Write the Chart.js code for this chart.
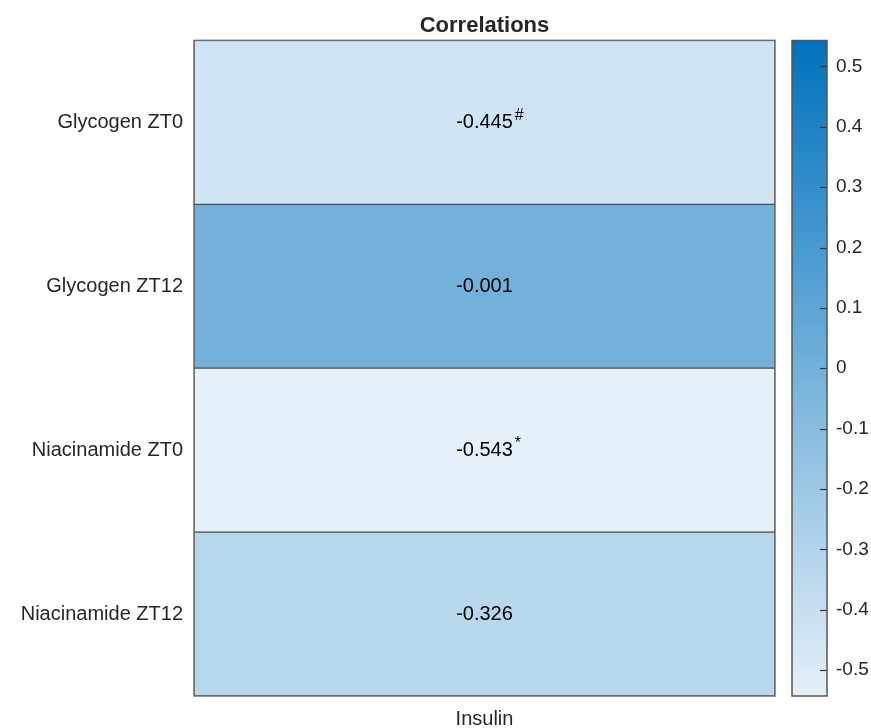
<!DOCTYPE html>
<html>
<head>
<meta charset="utf-8">
<script src="https://cdn.jsdelivr.net/npm/chart.js@4.4.1/dist/chart.umd.min.js"></script>
<style>
  body { margin: 0; background: #fff; }
  #wrap { position: relative; width: 871px; height: 728px; }
  #heat { position: absolute; left: 0; top: 0; }
  #cbar { position: absolute; left: 780px; top: 0; }
</style>
</head>
<body>
<div id="wrap">
  <canvas id="heat" width="871" height="728"></canvas>
  <canvas id="cbar" width="91" height="728"></canvas>
</div>
<script>
// data
const rowLabels = ['Glycogen ZT0', 'Glycogen ZT12', 'Niacinamide ZT0', 'Niacinamide ZT12'];
const colLabels = ['Insulin'];
const corrValues = [-0.445, -0.001, -0.543, -0.326];
const sigMarks = ['#', '', '*', ''];
const colorbarTicks = [-0.5, -0.4, -0.3, -0.2, -0.1, 0, 0.1, 0.2, 0.3, 0.4, 0.5];
const climMin = -0.543;
const climMax = 0.543;

const FONT = "'Liberation Sans', Arial, Helvetica, sans-serif";
const TXT = '#262626';
const lowColor = [229, 240, 248];
const highColor = [0, 114, 189];

function cmap(v) {
  let t = (v - climMin) / (climMax - climMin);
  t = Math.max(0, Math.min(1, t));
  const c = lowColor.map((lo, i) => Math.round(lo + (highColor[i] - lo) * t));
  return 'rgb(' + c.join(',') + ')';
}

Chart.defaults.font.family = FONT;
Chart.defaults.color = TXT;

// numbers inside the cells (with superscript significance marks)
const cellText = {
  id: 'cellText',
  afterDatasetsDraw(chart) {
    const ctx = chart.ctx;
    const meta = chart.getDatasetMeta(0);
    ctx.save();
    meta.data.forEach((bar, i) => {
      const cx = (bar.x + bar.base) / 2;
      const cy = bar.y;
      const txt = corrValues[i].toFixed(3);
      ctx.fillStyle = '#000';
      ctx.font = '20px ' + FONT;
      ctx.textAlign = 'center';
      ctx.textBaseline = 'middle';
      ctx.fillText(txt, cx, cy);
      if (sigMarks[i]) {
        const w = ctx.measureText(txt).width;
        ctx.font = '16px ' + FONT;
        ctx.textAlign = 'left';
        ctx.fillText(sigMarks[i], cx + w / 2 + 2, cy - 7);
      }
    });
    // outer frame
    const a = chart.chartArea;
    ctx.strokeStyle = '#6e6e6e';
    ctx.lineWidth = 1.5;
    ctx.strokeRect(a.left, a.top, a.right - a.left, a.bottom - a.top);
    ctx.restore();
  }
};

new Chart(document.getElementById('heat'), {
  type: 'bar',
  data: {
    labels: rowLabels,
    datasets: [{
      data: corrValues.map(() => [0, 1]),
      backgroundColor: corrValues.map(cmap),
      borderColor: '#4d4d4d',
      borderWidth: 1,
      borderSkipped: false,
      barPercentage: 1,
      categoryPercentage: 1
    }]
  },
  options: {
    indexAxis: 'y',
    responsive: false,
    animation: false,
    layout: { padding: { left: 0, right: 96, top: 0, bottom: 0 } },
    plugins: {
      legend: { display: false },
      tooltip: { enabled: false },
      title: {
        display: true,
        text: 'Correlations',
        fullSize: false,
        color: TXT,
        font: { size: 22, weight: 'bold' },
        padding: { top: 13, bottom: 1 }
      }
    },
    scales: {
      y: {
        grid: { display: false, drawTicks: false },
        border: { display: false },
        ticks: { font: { size: 20 }, color: TXT, padding: 11 },
        afterFit(scale) { scale.width = 194; }
      },
      x: {
        type: 'linear',
        min: 0,
        max: 1,
        grid: { display: false, drawTicks: false },
        border: { display: false },
        afterBuildTicks(scale) { scale.ticks = [{ value: 0.5 }]; },
        ticks: {
          font: { size: 20 },
          color: TXT,
          padding: 11,
          maxRotation: 0,
          callback: () => colLabels[0]
        },
        afterFit(scale) { scale.height = 32; }
      }
    }
  },
  plugins: [cellText]
});

// colorbar
const inwardTicks = {
  id: 'inwardTicks',
  afterDatasetsDraw(chart) {
    const ctx = chart.ctx;
    const a = chart.chartArea;
    const ys = chart.scales.y;
    ctx.save();
    ctx.strokeStyle = '#333';
    ctx.lineWidth = 1.2;
    colorbarTicks.forEach(v => {
      const y = Math.round(ys.getPixelForValue(v)) + 0.5;
      ctx.beginPath();
      ctx.moveTo(a.right, y);
      ctx.lineTo(a.right - 7, y);
      ctx.stroke();
    });
    ctx.strokeStyle = '#555';
    ctx.lineWidth = 1.5;
    ctx.strokeRect(a.left, a.top, a.right - a.left, a.bottom - a.top);
    ctx.restore();
  }
};

new Chart(document.getElementById('cbar'), {
  type: 'bar',
  data: {
    labels: [''],
    datasets: [{
      data: [[climMin, climMax]],
      backgroundColor(c) {
        const a = c.chart.chartArea;
        if (!a) return cmap(0);
        const g = c.chart.ctx.createLinearGradient(0, a.bottom, 0, a.top);
        g.addColorStop(0, cmap(climMin));
        g.addColorStop(1, cmap(climMax));
        return g;
      },
      borderWidth: 0,
      barPercentage: 1,
      categoryPercentage: 1
    }]
  },
  options: {
    responsive: false,
    animation: false,
    layout: { padding: { left: 12, right: 0, top: 40.5, bottom: 32 } },
    plugins: { legend: { display: false }, tooltip: { enabled: false } },
    scales: {
      x: { display: false },
      y: {
        position: 'right',
        min: climMin,
        max: climMax,
        grid: { display: false, drawTicks: false },
        border: { display: false },
        afterBuildTicks(scale) { scale.ticks = colorbarTicks.map(v => ({ value: v })); },
        ticks: {
          font: { size: 19 },
          color: TXT,
          padding: 9,
          callback: v => String(Math.round(v * 10) / 10)
        },
        afterFit(scale) { scale.width = 44; }
      }
    }
  },
  plugins: [inwardTicks]
});
</script>
</body>
</html>
